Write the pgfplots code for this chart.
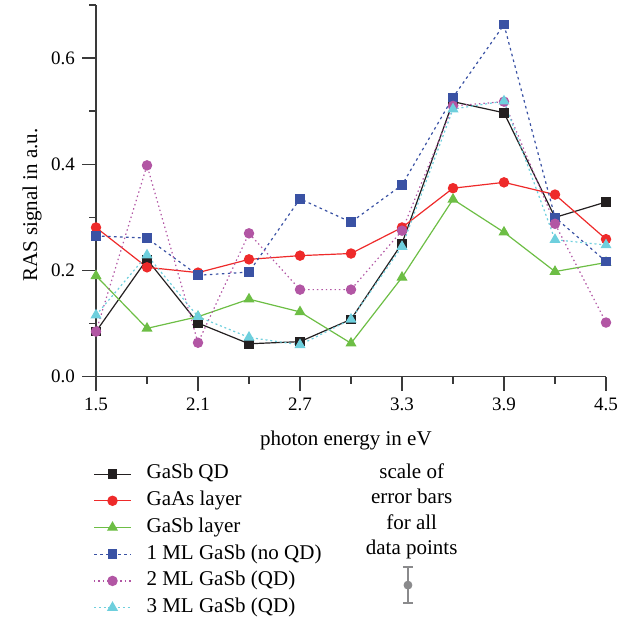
\documentclass[border=0pt]{standalone}
\usepackage{pgfplots}
\pgfplotsset{compat=1.18}
\usepackage{fontspec}
\setmainfont{Liberation Serif}

\definecolor{cblack}{HTML}{231F20}
\definecolor{cred}{HTML}{EE2A2A}
\definecolor{cgreen}{HTML}{6DBE45}
\definecolor{cblue}{HTML}{3A52A4}
\definecolor{cmag}{HTML}{B256A4}
\definecolor{ccyan}{HTML}{6ECFDD}
\definecolor{errgray}{HTML}{8A8A8C}
\definecolor{axisgray}{HTML}{3A3A3A}

\begin{document}
\begin{tikzpicture}
\useasboundingbox (-48pt,-121.65pt) rectangle (267pt,188.35pt);
\begin{axis}[
    scale only axis,
    width=255pt, height=185.85pt,
    xmin=1.5, xmax=4.5, ymin=0, ymax=0.7,
    axis x line*=bottom, axis y line*=left,
    axis line style={line width=0.75pt, color=axisgray, -},
    xtick={1.5,2.1,2.7,3.3,3.9,4.5},
    minor xtick={1.8,2.4,3.0,3.6,4.2},
    ytick={0,0.2,0.4,0.6},
    minor ytick={0.1,0.3,0.5,0.7},
    tick align=outside,
    major tick length=7pt, minor tick length=3.5pt,
    every tick/.style={line width=0.75pt, color=axisgray},
    tick label style={font=\fontsize{9.5}{11}\selectfont},
    /pgf/number format/assume math mode=true,
    xticklabel style={/pgf/number format/.cd, fixed, precision=1, zerofill},
    yticklabel style={/pgf/number format/.cd, fixed, precision=1, zerofill},
    xlabel={photon energy in eV},
    ylabel={RAS signal in a.u.},
    label style={font=\fontsize{10.5}{12}\selectfont},
    xlabel style={at={(axis description cs:0.49,0)}, anchor=base, yshift=-34.2pt},
    ylabel style={at={(axis description cs:-0.1255,0.462)}, anchor=center},
    clip=false,
    legend cell align=left,
    legend image code/.code={\draw[mark repeat=2, mark phase=2, #1] plot coordinates {(0pt,0pt) (9.25pt,0pt) (18.5pt,0pt)};},
    legend style={at={(0,0)}, anchor=north west, xshift=-1.5pt, yshift=-43.9pt,
        draw=none, fill=none, inner sep=0pt, row sep=4.15pt, column sep=7.5pt,
        font=\fontsize{10.5}{12}\selectfont,
        nodes={inner sep=0pt, text height=7pt, text depth=2.2pt}},
]
\addplot[cblack, line width=0.6pt, mark=square*, mark size=2.1pt] coordinates {
(1.5,0.085) (1.8,0.221) (2.1,0.101) (2.4,0.062) (2.7,0.066) (3.0,0.108)
(3.3,0.251) (3.6,0.518) (3.9,0.497) (4.2,0.300) (4.5,0.329)};
\addlegendentry{GaSb QD}
\addplot[cred, line width=0.6pt, mark=*, mark size=2.3pt] coordinates {
(1.5,0.281) (1.8,0.206) (2.1,0.196) (2.4,0.221) (2.7,0.228) (3.0,0.232)
(3.3,0.281) (3.6,0.355) (3.9,0.366) (4.2,0.343) (4.5,0.259)};
\addlegendentry{GaAs layer}
\addplot[cgreen, line width=0.6pt, mark=triangle*, mark size=2.6pt] coordinates {
(1.5,0.190) (1.8,0.091) (2.1,0.113) (2.4,0.146) (2.7,0.122) (3.0,0.063)
(3.3,0.187) (3.6,0.334) (3.9,0.272) (4.2,0.198) (4.5,0.215)};
\addlegendentry{GaSb layer}
\addplot[cblue, line width=0.6pt, dash pattern=on 1.3pt off 1.7pt, mark=square*, mark size=2.1pt, mark options={solid}] coordinates {
(1.5,0.265) (1.8,0.261) (2.1,0.191) (2.4,0.197) (2.7,0.335) (3.0,0.291)
(3.3,0.361) (3.6,0.526) (3.9,0.663) (4.2,0.300) (4.5,0.217)};
\addlegendentry{1 ML GaSb (no QD)}
\addplot[cmag, line width=0.6pt, dash pattern=on 0.7pt off 1.5pt, mark=*, mark size=2.3pt, mark options={solid}] coordinates {
(1.5,0.085) (1.8,0.398) (2.1,0.064) (2.4,0.270) (2.7,0.164) (3.0,0.164)
(3.3,0.275) (3.6,0.510) (3.9,0.518) (4.2,0.288) (4.5,0.102)};
\addlegendentry{2 ML GaSb (QD)}
\addplot[ccyan, line width=0.6pt, dash pattern=on 1pt off 1.4pt, mark=triangle*, mark size=2.6pt, mark options={solid}] coordinates {
(1.5,0.116) (1.8,0.229) (2.1,0.113) (2.4,0.074) (2.7,0.060) (3.0,0.108)
(3.3,0.245) (3.6,0.504) (3.9,0.519) (4.2,0.258) (4.5,0.248)};
\addlegendentry{3 ML GaSb (QD)}
% scale of error bars
\addplot[forget plot, errgray, only marks, mark=*, mark size=2pt,
    error bars/.cd, y dir=both, y explicit,
    error bar style={line width=0.75pt, errgray},
    error mark options={rotate=90, mark size=2.5pt, line width=0.75pt, errgray}]
    coordinates {(3.335,-0.3925) +- (0,0.0339)};
\node[align=center, font=\fontsize{10.5}{12.6}\selectfont] at (axis cs:3.357,-0.2534)
    {scale of\\error bars\\for all\\data points};
\end{axis}
\end{tikzpicture}
\end{document}
